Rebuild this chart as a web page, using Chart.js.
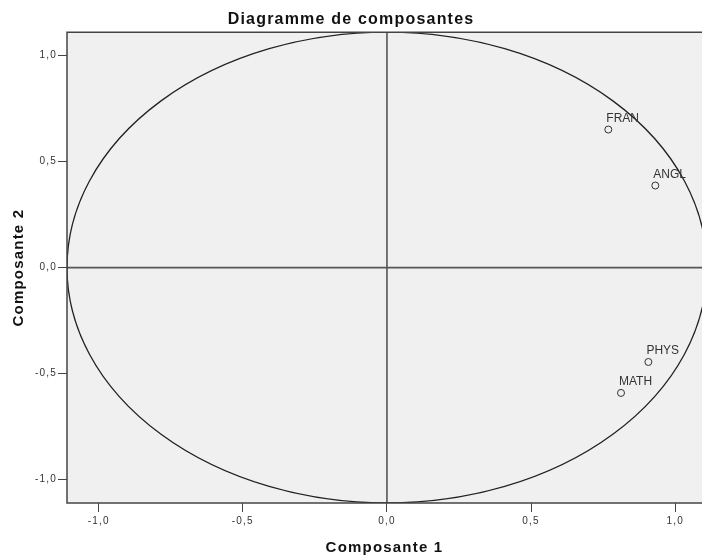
<!DOCTYPE html>
<html>
<head>
<meta charset="utf-8">
<title>Diagramme de composantes</title>
<script src="https://cdn.jsdelivr.net/npm/chart.js@4.4.0/dist/chart.umd.min.js"></script>
<style>
  html, body { margin: 0; padding: 0; background: #fff; overflow: hidden; }
</style>
</head>
<body>
<canvas id="plot" width="702" height="559"></canvas>
<script>
// loadings
const variables = ['FRAN', 'ANGL', 'PHYS', 'MATH'];
const comp1 = [0.768, 0.931, 0.907, 0.812];
const comp2 = [0.651, 0.387, -0.445, -0.591];

const axisLimit = 1.11;   // plot frame / circle goes to +-1.11
const xMaxShown = 1.093;  // picture is cut on the right

const fontFamily = '"Liberation Sans", Arial, Helvetica, sans-serif';
Chart.defaults.font.family = fontFamily;

const fmt = v => v.toFixed(1).replace('.', ',');

const framePlugin = {
    id: 'frame',
    beforeDraw(chart) {
        const { ctx, chartArea: a } = chart;
        ctx.letterSpacing = '1.2px';
        ctx.save();
        ctx.fillStyle = '#f0f0f0';
        ctx.fillRect(a.left, a.top, a.right - a.left, a.bottom - a.top);
        ctx.restore();
    },
    beforeDatasetsDraw(chart) {
        const { ctx, chartArea: a, scales: { x, y } } = chart;
        const x0 = x.getPixelForValue(0);
        const y0 = y.getPixelForValue(0);
        ctx.save();
        ctx.beginPath();
        ctx.rect(a.left, a.top, a.right - a.left, a.bottom - a.top);
        ctx.clip();
        // zero lines
        ctx.strokeStyle = '#555';
        ctx.lineWidth = 1.6;
        ctx.beginPath();
        ctx.moveTo(x0, a.top); ctx.lineTo(x0, a.bottom);
        ctx.moveTo(a.left, y0); ctx.lineTo(a.right, y0);
        ctx.stroke();
        // circle
        ctx.strokeStyle = '#222';
        ctx.lineWidth = 1.3;
        ctx.beginPath();
        ctx.ellipse(x0, y0, x.getPixelForValue(axisLimit) - x0, y0 - y.getPixelForValue(axisLimit), 0, 0, 2 * Math.PI);
        ctx.stroke();
        ctx.restore();
        // frame (no right edge, it is cropped)
        ctx.save();
        ctx.strokeStyle = '#444';
        ctx.lineWidth = 1.5;
        ctx.beginPath();
        ctx.moveTo(a.right, a.top);
        ctx.lineTo(a.left, a.top);
        ctx.lineTo(a.left, a.bottom);
        ctx.lineTo(a.right, a.bottom);
        ctx.stroke();
        ctx.restore();
    },
    afterDatasetsDraw(chart) {
        const { ctx } = chart;
        const meta = chart.getDatasetMeta(0);
        ctx.save();
        ctx.letterSpacing = '0px';
        ctx.font = '12px ' + fontFamily;
        ctx.fillStyle = '#333';
        ctx.textAlign = 'left';
        ctx.textBaseline = 'alphabetic';
        meta.data.forEach((pt, i) => {
            ctx.fillText(variables[i], pt.x - 2, pt.y - 8);
        });
        ctx.restore();
    }
};

const ctx = document.getElementById('plot').getContext('2d');

const plot = new Chart(ctx, {
    type: 'scatter',
    data: {
        datasets: [{
            data: variables.map((v, i) => ({ x: comp1[i], y: comp2[i] })),
            pointRadius: 3.5,
            pointHoverRadius: 3.5,
            pointBorderWidth: 1,
            pointBorderColor: '#333',
            pointBackgroundColor: 'rgba(0,0,0,0)'
        }]
    },
    options: {
        responsive: false,
        animation: false,
        layout: { padding: 0, autoPadding: false },
        plugins: {
            legend: { display: false },
            tooltip: { enabled: false },
            title: {
                display: true,
                text: 'Diagramme de composantes',
                color: '#111',
                font: { size: 16, weight: 'bold', lineHeight: 1.2 },
                padding: { top: 10, bottom: 3 }
            }
        },
        scales: {
            x: {
                type: 'linear',
                min: -axisLimit,
                max: xMaxShown,
                ticks: { stepSize: 0.5, includeBounds: false, padding: 3, color: '#333', font: { size: 10 }, callback: fmt },
                grid: { drawOnChartArea: false, drawTicks: true, tickLength: 9, color: '#444' },
                border: { display: false },
                title: {
                    display: true, text: 'Composante 1', color: '#111',
                    font: { size: 15, weight: 'bold', lineHeight: 1.2 },
                    padding: { top: 4, bottom: 2.5 }
                },
                afterFit: s => { s.height = 56; }
            },
            y: {
                type: 'linear',
                min: -axisLimit,
                max: axisLimit,
                ticks: { stepSize: 0.5, includeBounds: false, padding: 1, color: '#333', font: { size: 10 }, callback: fmt },
                grid: { drawOnChartArea: false, drawTicks: true, tickLength: 9, color: '#444' },
                border: { display: false },
                title: {
                    display: true, text: 'Composante 2', color: '#111',
                    font: { size: 15, weight: 'bold', lineHeight: 1.2 },
                    padding: { top: 9.5, bottom: 0 }
                },
                afterFit: s => { s.width = 67; }
            }
        }
    },
    plugins: [framePlugin]
});
</script>
</body>
</html>
